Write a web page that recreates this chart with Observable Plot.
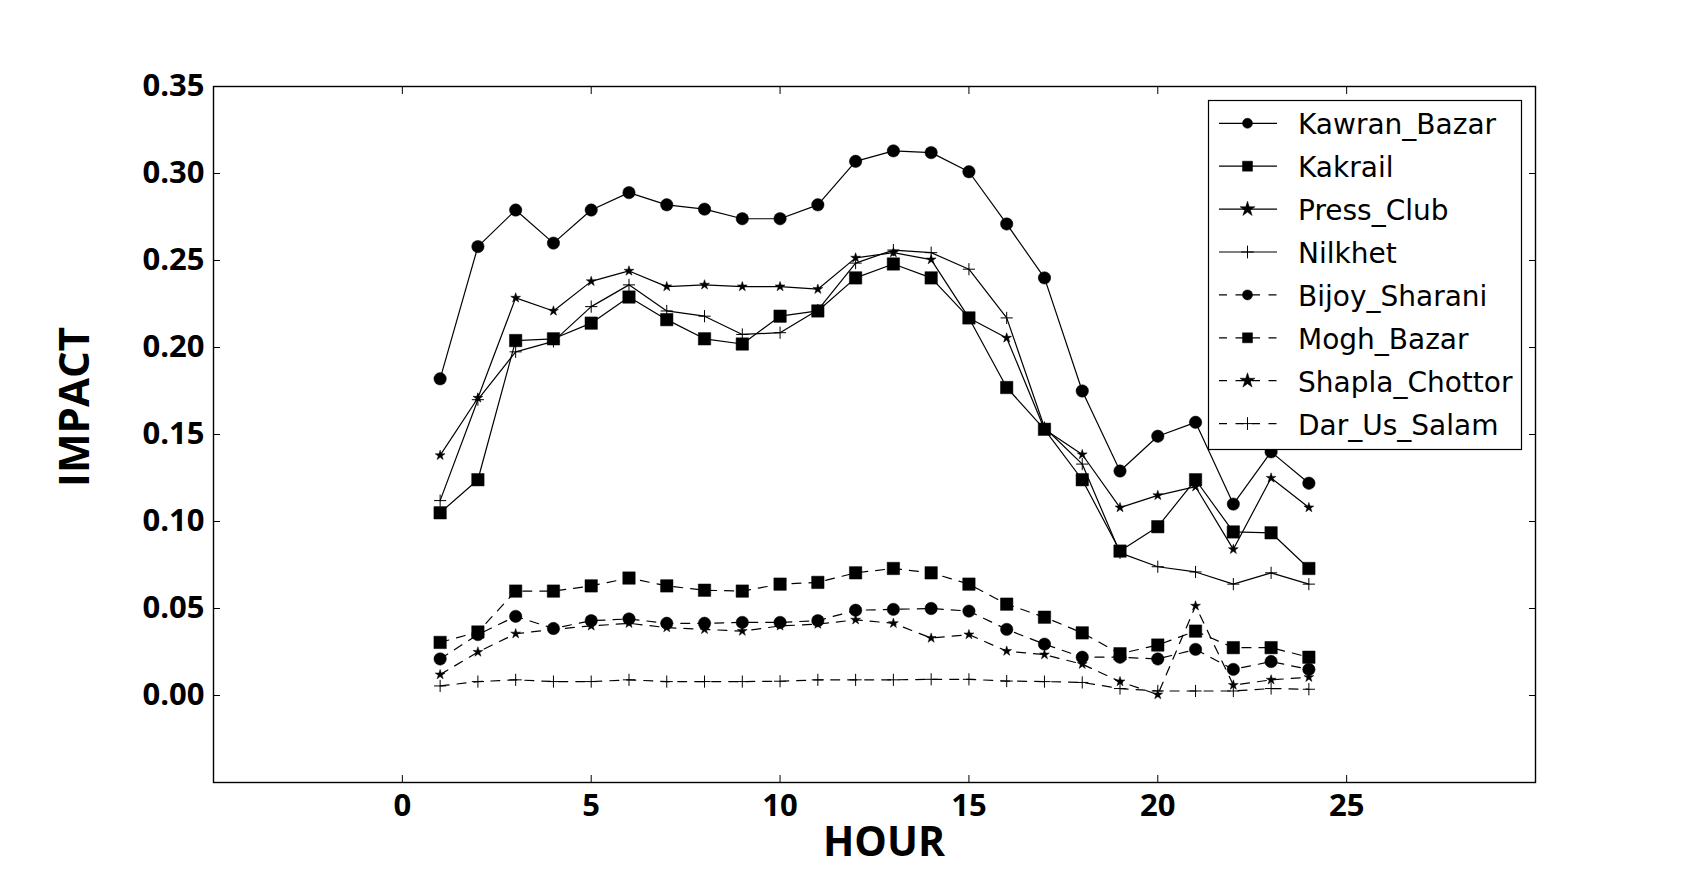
<!DOCTYPE html>
<html>
<head>
<meta charset="utf-8">
<script src="https://cdn.jsdelivr.net/npm/d3@7"></script>
<script src="https://cdn.jsdelivr.net/npm/@observablehq/plot@0.6"></script>
<style>
  html, body { margin: 0; padding: 0; background: #fff; }
  #wrap { position: relative; width: 1705px; height: 869px; overflow: hidden; background: #fff; }
  #wrap > svg { position: absolute; left: 0; top: 0; }
  #overlay { position: absolute; left: 0; top: 0; pointer-events: none; }
</style>
</head>
<body>
<div id="wrap"></div>
<script>
// ---------------- data ----------------
const hours = [1,2,3,4,5,6,7,8,9,10,11,12,13,14,15,16,17,18,19,20,21,22,23,24];

const stations = ["Kawran_Bazar","Kakrail","Press_Club","Nilkhet","Bijoy_Sharani","Mogh_Bazar","Shapla_Chottor","Dar_Us_Salam"];

const kawranBazar   = [0.182,0.258,0.279,0.260,0.279,0.289,0.282,0.2795,0.274,0.274,0.282,0.307,0.313,0.312,0.301,0.271,0.240,0.175,0.129,0.149,0.157,0.110,0.140,0.122];
const kakrail       = [0.105,0.124,0.204,0.205,0.214,0.229,0.216,0.205,0.202,0.218,0.221,0.240,0.248,0.240,0.217,0.177,0.153,0.124,0.083,0.097,0.124,0.094,0.0935,0.073];
const pressClub     = [0.138,0.171,0.2285,0.221,0.238,0.244,0.235,0.236,0.235,0.235,0.2335,0.2515,0.2545,0.2505,0.217,0.2055,0.153,0.1385,0.108,0.115,0.120,0.084,0.125,0.108];
const nilkhet       = [0.112,0.170,0.1975,0.2035,0.2235,0.236,0.221,0.218,0.2075,0.2085,0.2215,0.2485,0.256,0.2545,0.245,0.217,0.154,0.133,0.082,0.074,0.071,0.064,0.0705,0.064];
const bijoySharani  = [0.021,0.035,0.0455,0.0385,0.043,0.044,0.0415,0.0415,0.042,0.042,0.043,0.049,0.0495,0.050,0.0485,0.038,0.0295,0.022,0.022,0.021,0.0265,0.015,0.0195,0.015];
const moghBazar     = [0.0305,0.0365,0.060,0.060,0.063,0.0675,0.063,0.0605,0.060,0.064,0.065,0.0705,0.073,0.0705,0.064,0.0525,0.045,0.036,0.024,0.029,0.037,0.0275,0.0275,0.022];
const shaplaChottor = [0.012,0.025,0.0355,0.038,0.040,0.0415,0.039,0.038,0.037,0.040,0.041,0.0435,0.0415,0.033,0.035,0.0255,0.0235,0.018,0.008,0.0005,0.0515,0.006,0.009,0.0105];
const darUsSalam    = [0.0055,0.008,0.009,0.008,0.008,0.009,0.008,0.008,0.008,0.0082,0.009,0.009,0.009,0.0093,0.0093,0.0083,0.008,0.0075,0.004,0.0026,0.0026,0.0026,0.004,0.0036];

const seriesValues = [kawranBazar, kakrail, pressClub, nilkhet, bijoySharani, moghBazar, shaplaChottor, darUsSalam];

const xTicks = [0,5,10,15,20,25];
const yTicks = [0.00,0.05,0.10,0.15,0.20,0.25,0.30,0.35];
const xLabel = "HOUR";
const yLabel = "IMPACT";

// ---------------- styles ----------------
const symbols  = ["circle","square","star","plus","circle","square","star","plus"];
const radii    = {circle: 6.2, square: 7, star: 3.1, plus: 4};
const dashed   = [false,false,false,false,true,true,true,true];
const DASH = "9,8";

// tidy rows
const rows = [];
stations.forEach((s, i) => {
  hours.forEach((h, j) => rows.push({station: s, hour: h, value: seriesValues[i][j], idx: i}));
});

const marks = [];
stations.forEach((s, i) => {
  const data = rows.filter(r => r.station === s);
  marks.push(Plot.line(data, {
    x: "hour", y: "value", stroke: "#000", strokeWidth: 1.2,
    strokeDasharray: dashed[i] ? DASH : null
  }));
  const sym = symbols[i];
  marks.push(Plot.dot(data, {
    x: "hour", y: "value", symbol: () => sym, r: radii[sym],
    fill: sym === "plus" ? "none" : "#000",
    stroke: "#000", strokeWidth: sym === "plus" ? 1 : 0.5
  }));
});

marks.push(Plot.frame({stroke: "#000", strokeWidth: 1.4}));
marks.push(Plot.axisX(xTicks, {anchor: "bottom", tickSize: -7, tickPadding: 18, tickFormat: d => String(d),
  fontSize: 31, fontWeight: 700, label: null, stroke: "#000"}));
marks.push(Plot.axisX(xTicks, {anchor: "top", tickSize: -7, tickFormat: () => "", label: null}));
marks.push(Plot.axisY(yTicks, {anchor: "left", tickSize: -7, tickPadding: 16, tickFormat: d3.format(".2f"),
  fontSize: 31, fontWeight: 700, label: null}));
marks.push(Plot.axisY(yTicks, {anchor: "right", tickSize: -7, tickFormat: () => "", label: null}));

const chart = Plot.plot({
  width: 1705, height: 869,
  marginLeft: 213, marginRight: 170, marginTop: 86, marginBottom: 87,
  x: {domain: [-5, 30]},
  y: {domain: [-0.05, 0.35]},
  style: {fontFamily: "'Open Sans', sans-serif", background: "#fff", color: "#000", overflow: "visible"},
  marks
});
const wrap = document.getElementById("wrap");
wrap.appendChild(chart);

// ---------------- overlay: axis titles + legend ----------------
const ov = d3.select(wrap).append("svg").attr("id", "overlay").attr("width", 1705).attr("height", 869);

ov.append("text").text(xLabel)
  .attr("x", 884).attr("y", 856).attr("text-anchor", "middle")
  .attr("font-family", "'Open Sans', sans-serif").attr("font-weight", 700).attr("font-size", 41).attr("fill", "#000");
ov.append("text").text(yLabel)
  .attr("transform", "translate(89,407) rotate(-90)").attr("text-anchor", "middle")
  .attr("font-family", "'Open Sans', sans-serif").attr("font-weight", 700).attr("font-size", 42).attr("fill", "#000");

const lg = ov.append("g");
lg.append("rect").attr("x", 1208.5).attr("y", 100.5).attr("width", 313).attr("height", 349)
  .attr("fill", "#fff").attr("stroke", "#000").attr("stroke-width", 1.2);
const legendSymbolSize = {circle: Math.PI * 25, square: 100, star: 70, plus: 55};
const d3Sym = {circle: d3.symbolCircle, square: d3.symbolSquare, star: d3.symbolStar, plus: d3.symbolPlus};
stations.forEach((s, i) => {
  const cy = 123.3 + i * 42.9;
  lg.append("line").attr("x1", 1219).attr("x2", 1277).attr("y1", cy).attr("y2", cy)
    .attr("stroke", "#000").attr("stroke-width", 1.2)
    .attr("stroke-dasharray", dashed[i] ? "8,8.5" : null);
  const sym = symbols[i];
  lg.append("path").attr("transform", `translate(1247.5,${cy})`)
    .attr("d", d3.symbol(d3Sym[sym], legendSymbolSize[sym])())
    .attr("fill", sym === "plus" ? "none" : "#000").attr("stroke", "#000").attr("stroke-width", sym === "plus" ? 1 : 0.5);
  lg.append("text").text(s).attr("x", 1298).attr("y", cy + 11)
    .attr("font-family", "'DejaVu Sans', sans-serif").attr("font-size", 28).attr("fill", "#000");
});
</script>
</body>
</html>
